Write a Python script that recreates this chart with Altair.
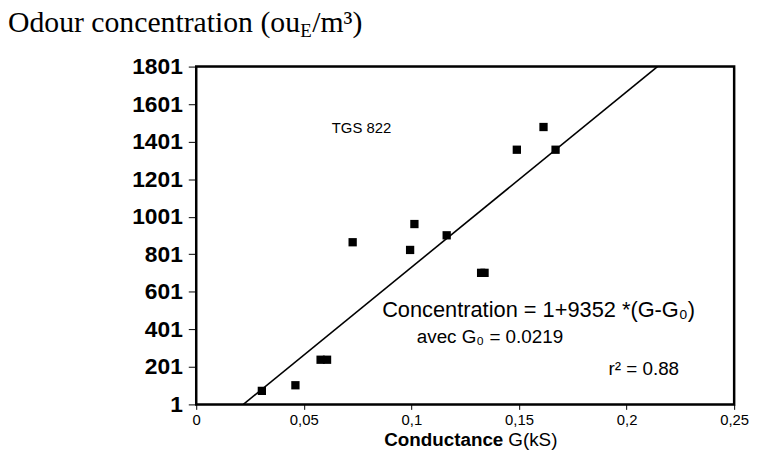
import altair as alt
import pandas as pd

# Measured points: conductance G (kS) and odour concentration (ouE/m3)
g_values = [0.0305, 0.0461, 0.0578, 0.0608, 0.0727, 0.0994, 0.1014, 0.1164, 0.1324, 0.1340, 0.1490, 0.1614, 0.1670]
conc_values = [73, 103, 239, 239, 865, 824, 962, 902, 702, 702, 1358, 1479, 1358]

# Regression: Concentration = 1 + 9352*(G - G0)
intercept = 1
slope = 9352
g0 = 0.0219
y_top = 1801

x_ticks = [0, 0.05, 0.1, 0.15, 0.2, 0.25]
y_ticks = [1, 201, 401, 601, 801, 1001, 1201, 1401, 1601, 1801]

pts = pd.DataFrame({"G": g_values, "C": conc_values})
fit = pd.DataFrame({
    "G": [g0, g0 + (y_top - intercept) / slope],
    "C": [intercept, y_top],
})

W, H = 543, 341
xs = alt.Scale(domain=[0, 0.25], nice=False, zero=False)
ys = alt.Scale(domain=[1, 1801], nice=False, zero=False)

x_axis = alt.Axis(values=x_ticks, labelExpr="replace(toString(datum.value), '.', ',')",
                  title=None, grid=False, domain=False, tickColor="black", tickSize=5,
                  labelFont="Liberation Sans", labelFontSize=15, labelColor="black",
                  labelPadding=3, labelFlush=False, labelOverlap=False)
y_axis = alt.Axis(values=y_ticks, format="d", title=None, grid=False, domain=False, tickColor="black",
                  tickSize=8, labelFont="Liberation Sans", labelFontSize=23, labelFontWeight="bold",
                  labelColor="black", labelPadding=6, labelOverlap=False)

def X():
    return alt.X("G:Q", scale=xs, axis=x_axis)

def Y():
    return alt.Y("C:Q", scale=ys, axis=y_axis)

points = alt.Chart(pts).mark_square(size=70, color="black", opacity=1).encode(x=X(), y=Y())
line = alt.Chart(fit).mark_line(color="black", strokeWidth=1.6, clip=True).encode(x=X(), y=Y())

frame_df = pd.DataFrame({"k": [0]})
frame = alt.Chart(frame_df).mark_rect(fill=None, stroke="black", strokeWidth=2.5).encode(
    x=alt.value(0), x2=alt.value(W), y=alt.value(0), y2=alt.value(H)
)

ann = pd.DataFrame({
    "G": [0.063, 0.0864, 0.1025, 0.1916],
    "C": [1448, 466, 330, 160],
    "t": ["TGS 822", "Concentration = 1+9352 *(G-G\u2080)", "avec G\u2080 = 0.0219", "r\u00b2 = 0.88"],
    "s": [15, 22, 19, 19],
})
ann_layers = []
for i in range(len(ann)):
    ann_layers.append(
        alt.Chart(ann.iloc[[i]]).mark_text(align="left", baseline="alphabetic", font="Liberation Sans",
                                           fontSize=int(ann["s"][i]), color="black").encode(
            x=X(), y=Y(), text="t:N")
    )

lab = pd.DataFrame({"k": [0]})
def txt(text, x, y, size, font="Liberation Sans", weight="normal", align="left"):
    return alt.Chart(lab).mark_text(text=text, align=align, baseline="alphabetic", font=font,
                                    fontSize=size, fontWeight=weight, color="black").encode(
        x=alt.value(x), y=alt.value(y))

titles = [
    txt("Conductance", 310, 383, 19, weight="bold", align="right"),
    txt("G(kS)", 315, 383, 19),
    txt("Odour concentration (ou", -190, -35, 30, font="Liberation Serif"),
    txt("E", 105, -30, 19, font="Liberation Serif"),
    txt("/m\u00b3)", 117, -35, 30, font="Liberation Serif"),
]

chart = alt.layer(points, line, frame, *ann_layers, *titles).properties(
    width=W, height=H,
    autosize=alt.AutoSizeParams(type="none"),
    padding={"left": 190, "top": 57, "right": 16, "bottom": 55},
).configure_view(strokeWidth=0).configure(background="white")

chart.save("out.html", embed_options={"renderer": "svg", "actions": False})
